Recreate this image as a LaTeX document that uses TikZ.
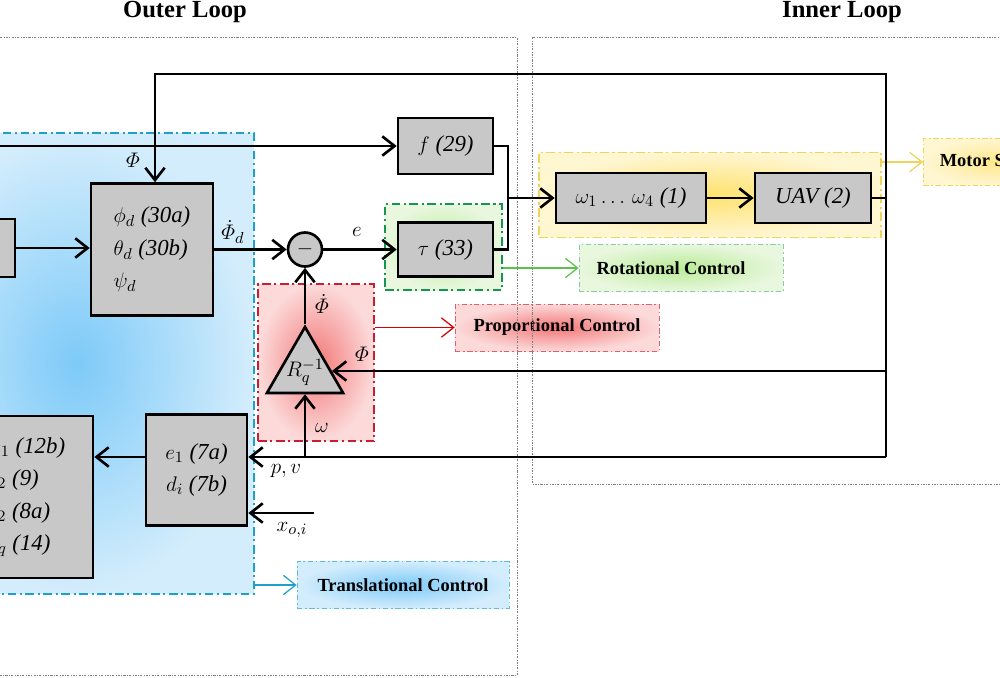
\documentclass[tikz,border=0pt]{standalone}
\usepackage{amsmath}
\usepackage{fontspec}
\setmainfont{Liberation Serif}
\usetikzlibrary{arrows.meta,shapes.geometric}
\definecolor{boxgray}{RGB}{200,200,200}
\definecolor{bluein}{RGB}{125,202,248}\definecolor{blueout}{RGB}{212,237,252}\definecolor{bluebd}{RGB}{30,160,205}
\definecolor{redin}{RGB}{243,120,120}\definecolor{redout}{RGB}{252,218,218}\definecolor{redbd}{RGB}{200,30,50}
\definecolor{greenin}{RGB}{185,235,150}\definecolor{greenout}{RGB}{232,247,222}\definecolor{greenbd}{RGB}{20,150,80}
\definecolor{yelin}{RGB}{255,226,110}\definecolor{yelout}{RGB}{255,246,210}\definecolor{yelbd}{RGB}{240,212,90}
\newcommand\boxfont{\fontsize{13}{18.5}\selectfont}
\newcommand\tagfont{\fontsize{10.5}{12}\selectfont\bfseries}
\newcommand\titlefont{\fontsize{14}{16}\selectfont\bfseries}
\begin{document}
\begin{tikzpicture}[x=0.02cm, y=-0.02cm, line join=miter, >={Straight Barb[length=7pt,width=11pt]},
	wire/.style={line width=1.5pt},
	blk/.style={draw, line width=1.5pt, fill=boxgray, font=\boxfont, inner sep=2pt},
	zone/.style={shade, line width=0.8pt, dash pattern=on 5pt off 2pt on 1.2pt off 2pt, inner sep=0pt},
	tag/.style={shade, line width=0.4pt, dash pattern=on 3pt off 1.5pt on 1pt off 1.5pt, font=\tagfont, inner sep=0pt, minimum height=0.94cm},
	lbl/.style={font=\boxfont, inner sep=1pt},
	loopframe/.style={draw=gray, line width=0.4pt, dash pattern=on 1.2pt off 0.8pt on 0.4pt off 0.8pt},
	tagarrow/.style={->, line width=0.7pt}]
	\useasboundingbox (0,0) rectangle (1000,677);
	\clip (0,0) rectangle (1000,677);
	% zones
	\node[zone, draw=bluebd, inner color=bluein, outer color=blueout, minimum width=7.08cm, minimum height=9.22cm] (breg) at (77,363.5) {};
	\node[zone, draw=redbd, inner color=redin, outer color=redout, minimum width=2.32cm, minimum height=3.14cm] (rreg) at (316,362.5) {};
	\node[zone, draw=greenbd, inner color=greenin, outer color=greenout, minimum width=2.34cm, minimum height=1.72cm] (greg) at (443.5,247) {};
	\node[zone, draw=yelbd, inner color=yelin, outer color=yelout, minimum width=6.84cm, minimum height=1.7cm] (yreg) at (710,195) {};
	% tags
	\node[tag, draw=yelbd, inner color=yelin!80, outer color=yelout, minimum width=2.88cm, anchor=west] (motor) at (923,162) {Motor System};
	\node[tag, draw=greenbd!50, inner color=greenin, outer color=greenout, minimum width=4.08cm] (rot) at (681,268) {Rotational Control\hspace*{0.4cm}};
	\node[tag, draw=redbd!70, inner color=redin, outer color=redout, minimum width=4.08cm] (prop) at (557,327.5) {Proportional Control};
	\node[tag, draw=bluebd!70, inner color=bluein, outer color=blueout, minimum width=4.24cm] (trans) at (403,585) {Translational Control};
	\draw[tagarrow, yelbd] (yreg.east |- motor.west) -- (motor.west);
	\draw[tagarrow, greenin!60!green!80!black] (greg.east |- rot.west) -- (rot.west);
	\draw[tagarrow, red!85!black] (rreg.east |- prop.west) -- (prop.west);
	\draw[tagarrow, bluebd] (breg.east |- trans.west) -- (trans.west);
	% loops
	\draw[loopframe] (-20,37) rectangle (517,675);
	\draw[loopframe] (532,37) rectangle (1020,484);
	\node[font=\titlefont] (outer) at (185,12) {Outer Loop};
	\node[font=\titlefont] (inner) at (842,12) {Inner Loop};
	% blocks
	\node[blk, minimum width=1.1cm, minimum height=1.16cm] (leftbox) at (-12.5,248) {};
	\node[blk, minimum width=2.44cm, minimum height=2.64cm, align=left] (attbox) at (152,249.5) {$\phi_d$ \textit{(30a)}\\ $\theta_d$ \textit{(30b)}\\ $\psi_d$};
	\node[blk, circle, minimum size=0.68cm, inner sep=0pt] (sumc) at (305,249.5) {$-$};
	\node[blk, minimum width=1.9cm, minimum height=1.12cm] (fbox) at (445.5,146) {$f$ \textit{(29)}};
	\node[blk, minimum width=1.9cm, minimum height=1.08cm] (taubox) at (445.5,249.5) {$\tau$ \textit{(33)}};
	\node[blk, minimum width=3.0cm, minimum height=1.0cm] (omg) at (631,198) {$\omega_1\ldots\,\omega_4$ \textit{(1)}};
	\node[blk, minimum width=2.32cm, minimum height=1.0cm] (uav) at (813,198) {\textit{UAV (2)}};
	\node[blk, regular polygon, regular polygon sides=3, minimum size=1.76cm, inner sep=0pt] (rinv) at (305,371) {};
	\node[lbl] (rinvtxt) at (305,372) {$R_q^{-1}$};
	\node[blk, minimum width=2.02cm, minimum height=2.22cm, align=center] (e1box) at (196.5,470) {$e_1$ \textit{(7a)}\\ $d_i$ \textit{(7b)}};
	\node[blk, minimum width=2.66cm, minimum height=3.24cm, align=left] (bigbox) at (26.5,497) {$\alpha_1$ \textit{(12b)}\\ $z_2$ \textit{(9)}\\ $e_2$ \textit{(8a)}\\ $\hat{f}_q$ \textit{(14)}};
	% wires
	\coordinate (thr) at (-10,146);
	\coordinate (jn) at (508,198);
	\coordinate (fbne) at (886,74);
	\coordinate (fbse) at (886,457);
	\coordinate (fbnw) at (155,74);
	\coordinate (pvj) at (305,457);
	\coordinate (xoi) at (314,513);
	\draw[wire,->] (thr) -- (fbox.west);
	\draw[wire,->] (leftbox.east) -- (leftbox.east -| attbox.west);
	\draw[wire,->] (attbox.east |- sumc) -- (sumc.west);
	\draw[wire,->] (sumc.east) -- (taubox.west);
	\draw[wire] (fbox.east) -| (jn);
	\draw[wire] (taubox.east) -| (jn);
	\draw[wire,->] (jn) -- (omg.west);
	\draw[wire,->] (omg.east) -- (uav.west);
	\draw[wire] (uav.east) -- (uav.east -| fbne);
	\draw[wire,->] (fbse) -- (fbne) -- (fbnw) -- (fbnw |- attbox.north);
	\draw[wire,->] (fbne |- rinv.east) -- (rinv.east);
	\draw[wire,->] (fbse) -- (pvj -| e1box.east);
	\draw[wire,->] (pvj) -- (rinv.side 2);
	\draw[wire,->] (rinv.corner 1) -- (sumc.south);
	\draw[wire,->] (xoi) -- (xoi -| e1box.east);
	\draw[wire,->] (e1box.west |- pvj) -- (bigbox.east |- pvj);
	% labels
	\node[lbl] (phitop) at (133,160) {$\varPhi$};
	\node[lbl] (phiddot) at (233,232) {$\dot{\varPhi}_d$};
	\node[lbl] (elbl) at (357,232) {$e$};
	\node[lbl] (phidot) at (322,304) {$\dot{\varPhi}$};
	\node[lbl] (phitri) at (362,354) {$\varPhi$};
	\node[lbl] (omlbl) at (322,428) {$\omega$};
	\node[lbl] (pvlbl) at (286,471) {$p,v$};
	\node[lbl] (xoilbl) at (292,530) {$x_{o,i}$};
\end{tikzpicture}
\end{document}
